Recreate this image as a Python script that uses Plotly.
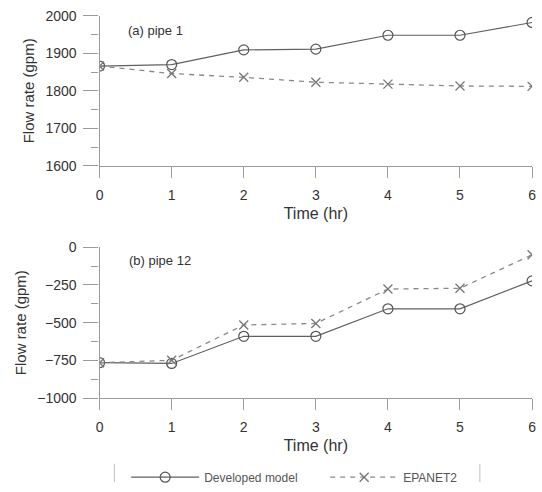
import plotly.graph_objects as go

hours = [0, 1, 2, 3, 4, 5, 6]
pipe1_developed = [1866, 1870, 1909, 1911, 1948, 1948, 1982]
pipe1_epanet = [1866, 1846, 1836, 1823, 1818, 1813, 1812]
pipe12_developed = [-765, -770, -590, -590, -408, -408, -223]
pipe12_epanet = [-765, -749, -515, -505, -277, -272, -50]

series_names = ["Developed model", "EPANET2"]
panel_labels = ["(a) pipe 1", "(b) pipe 12"]

W, H = 542, 492
FONT = "Liberation Sans, Arial, sans-serif"
dev_style = dict(mode="lines+markers", line=dict(color="#606060", width=1.2),
                 marker=dict(symbol="circle-open", size=10, color="#555555", line=dict(width=1.2)))
epa_style = dict(mode="lines+markers", line=dict(color="#8a8a8a", width=1.3, dash="5px,5px"),
                 marker=dict(symbol="x-thin-open", size=9, color="#777777", line=dict(width=1.3)))

fig = go.Figure()
fig.add_trace(go.Scatter(x=hours, y=pipe1_developed, name=series_names[0], xaxis="x", yaxis="y", **dev_style))
fig.add_trace(go.Scatter(x=hours, y=pipe1_epanet, name=series_names[1], xaxis="x", yaxis="y", **epa_style))
fig.add_trace(go.Scatter(x=hours, y=pipe12_developed, name=series_names[0], xaxis="x2", yaxis="y2",
                         showlegend=False, **dev_style))
fig.add_trace(go.Scatter(x=hours, y=pipe12_epanet, name=series_names[1], xaxis="x2", yaxis="y2",
                         showlegend=False, **epa_style))

def px_x(p):
    return p / W

def px_y(p):
    return 1 - p / H

xdom = [px_x(97), px_x(536)]
common_x = dict(range=[0, 6], dtick=1, tick0=0, showline=True, linecolor="#9a9a9a", linewidth=1.2,
                ticks="outside", ticklen=11, tickcolor="#9a9a9a", tickwidth=1.2, showgrid=False,
                zeroline=False, tickfont=dict(family=FONT, size=14, color="#333"),
                ticklabelstandoff=5,
                title=dict(text="Time (hr)", font=dict(family=FONT, size=16, color="#333"), standoff=5))
common_y = dict(showline=True, linecolor="#9a9a9a", linewidth=1.2, ticks="outside", ticklen=15,
                tickcolor="#9a9a9a", tickwidth=1.2, showgrid=False, zeroline=False,
                tickfont=dict(family=FONT, size=14, color="#333"), ticklabelstandoff=4,
                title=dict(text="Flow rate (gpm)", font=dict(family=FONT, size=15, color="#333"), standoff=7))

fig.update_layout(
    width=W, height=H, margin=dict(l=0, r=0, t=0, b=0),
    paper_bgcolor="white", plot_bgcolor="white",
    xaxis=dict(domain=xdom, anchor="y", **common_x),
    yaxis=dict(domain=[px_y(164), px_y(8)], anchor="x", range=[1600, 2000], dtick=100, tick0=1600,
               minor=dict(ticks="outside", ticklen=7, dtick=50, tickcolor="#9a9a9a", tickwidth=1.2),
               **common_y),
    xaxis2=dict(domain=xdom, anchor="y2", **common_x),
    yaxis2=dict(domain=[px_y(405), px_y(248.3)], anchor="x2", range=[-1000, 0], dtick=250, tick0=-1000,
                minor=dict(ticks="outside", ticklen=7, dtick=125, tickcolor="#9a9a9a", tickwidth=1.2),
                **common_y),
    legend=dict(orientation="h", x=px_x(124), xanchor="left", y=px_y(487), yanchor="middle",
                font=dict(family=FONT, size=12, color="#555"), itemwidth=68, entrywidth=116,
                bgcolor="rgba(0,0,0,0)"),
    showlegend=True,
)

fig.add_annotation(text=panel_labels[0], xref="x", yref="y", x=0.36, y=1960, xanchor="left",
                   showarrow=False, font=dict(family=FONT, size=13, color="#333"))
fig.add_annotation(text=panel_labels[1], xref="x2", yref="y2", x=0.38, y=-85, xanchor="left",
                   showarrow=False, font=dict(family=FONT, size=13, color="#333"))

for xp in (112, 483):
    fig.add_shape(type="line", xref="paper", yref="paper", x0=px_x(xp), x1=px_x(xp),
                  y0=px_y(473), y1=0, line=dict(color="#c0c0c0", width=1))

fig.write_html("out.html")
